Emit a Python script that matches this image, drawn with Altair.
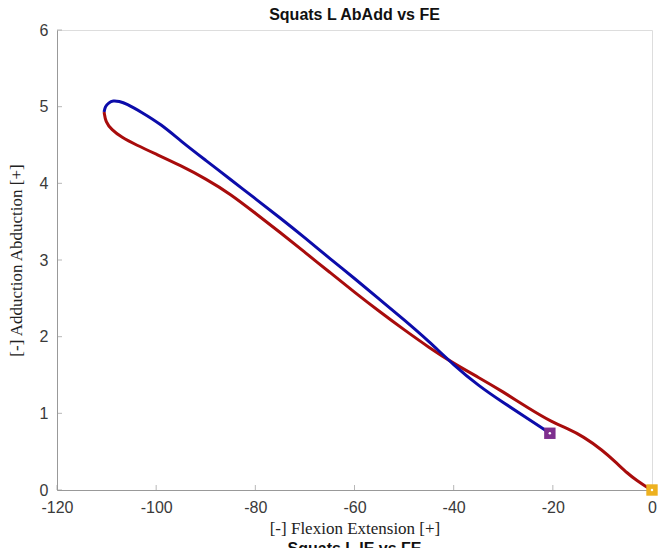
import altair as alt
import pandas as pd

# Red path: start (0,0) -> turning point near (-110.5, 4.93)
red_fe = [0, -1.1, -3, -5, -7.1, -10, -13.9, -17, -20, -25, -30, -35, -40, -45, -50,
          -55, -60, -65, -70, -75, -80, -85, -90, -95, -100, -104, -107, -109,
          -110.2, -110.5]
red_ab = [0, 0.04, 0.12, 0.22, 0.35, 0.52, 0.70, 0.80, 0.88, 1.07, 1.28, 1.47, 1.65,
          1.86, 2.09, 2.33, 2.58, 2.84, 3.10, 3.36, 3.61, 3.86, 4.06, 4.23, 4.38,
          4.50, 4.60, 4.70, 4.80, 4.93]

# Blue path: turning point -> end near (-20.6, 0.74)
blue_fe = [-110.5, -110.3, -109.6, -108.7, -107.5, -106, -103, -99, -95, -90,
           -85, -80, -75, -70, -65, -60, -55, -50, -45, -40, -35, -30, -25, -20.6]
blue_ab = [4.93, 5.0, 5.05, 5.08, 5.07, 5.04, 4.93, 4.77, 4.55, 4.30, 4.05, 3.80, 3.55,
           3.29, 3.02, 2.76, 2.49, 2.22, 1.94, 1.63, 1.36, 1.14, 0.93, 0.74]

marker_fe = [-20.6, 0]
marker_ab = [0.74, 0]
marker_col = ["#7E2F8E", "#EDB120"]

x_ticks = [-120, -100, -80, -60, -40, -20, 0]
y_ticks = [0, 1, 2, 3, 4, 5, 6]

title_text = "Squats L AbAdd vs FE"
next_title = "Squats L IE vs FE"
x_title = "[-] Flexion Extension [+]"
y_title = "[-] Adduction Abduction [+]"

W, H = 595, 460

lines = pd.concat([
    pd.DataFrame({"fe": red_fe, "ab": red_ab, "seg": "red", "i": range(len(red_fe))}),
    pd.DataFrame({"fe": blue_fe, "ab": blue_ab, "seg": "blue", "i": range(len(blue_fe))}),
])
markers = pd.DataFrame({"fe": marker_fe, "ab": marker_ab, "col": marker_col})

xs = alt.Scale(domain=[-120, 0], nice=False, zero=False)
ys = alt.Scale(domain=[0, 6], nice=False, zero=False)

common = dict(tickSize=0, grid=False, domainColor="#999999",
              labelFont="Liberation Sans", labelFontSize=16, labelColor="#3a3a3a",
              labelFlush=False, labelExpr="'' + datum.value",
              titleFont="Liberation Serif", titleFontSize=17, titleFontWeight="normal",
              titleColor="#222222")
x_axis = alt.Axis(values=x_ticks, labelPadding=9, titlePadding=5, **common)
y_axis = alt.Axis(values=y_ticks, labelPadding=9, titlePadding=14, **common)

line_layer = alt.Chart(lines).mark_line(strokeWidth=3, interpolate="basis").encode(
    x=alt.X("fe:Q", scale=xs, axis=x_axis, title=x_title),
    y=alt.Y("ab:Q", scale=ys, axis=y_axis, title=y_title),
    color=alt.Color("seg:N", scale=alt.Scale(domain=["red", "blue"], range=["#A80C0C", "#0C0CAA"]), legend=None),
    detail="seg:N",
    order="i:Q",
)

marker_layer = alt.Chart(markers).mark_square(size=130, opacity=1).encode(
    x=alt.X("fe:Q", scale=xs),
    y=alt.Y("ab:Q", scale=ys),
    color=alt.Color("col:N", scale=None),
)
dot_layer = alt.Chart(markers).mark_point(size=6, filled=True, color="white", opacity=1).encode(
    x=alt.X("fe:Q", scale=xs),
    y=alt.Y("ab:Q", scale=ys),
)

xt = pd.DataFrame({"v": x_ticks})
yt = pd.DataFrame({"v": y_ticks})
xtick_layer = alt.Chart(xt).mark_tick(orient="vertical", size=5, thickness=1, color="#999999", yOffset=-2.5).encode(
    x=alt.X("v:Q", scale=xs), y=alt.datum(0, scale=ys)
)
ytick_layer = alt.Chart(yt).mark_tick(orient="horizontal", size=5, thickness=1, color="#999999", xOffset=2.5).encode(
    y=alt.Y("v:Q", scale=ys), x=alt.datum(-120, scale=xs)
)

next_layer = alt.Chart(pd.DataFrame({"t": [next_title]})).mark_text(
    font="Liberation Sans", fontSize=16, fontWeight="bold", color="#111111", baseline="alphabetic", align="center"
).encode(text="t:N", x=alt.value(W / 2), y=alt.value(H + 64))

chart = alt.layer(xtick_layer, ytick_layer, line_layer, marker_layer, dot_layer, next_layer).properties(
    width=W, height=H,
    title=alt.TitleParams(title_text, font="Liberation Sans", fontSize=16, fontWeight="bold",
                          color="#111111", anchor="middle", offset=-1),
    autosize=alt.AutoSizeParams(type="none"),
    padding={"left": 57, "top": 30, "right": 6, "bottom": 58},
).configure_view(stroke=None).configure(background="white")

chart.save("out.html", embed_options={"renderer": "svg", "actions": False})
